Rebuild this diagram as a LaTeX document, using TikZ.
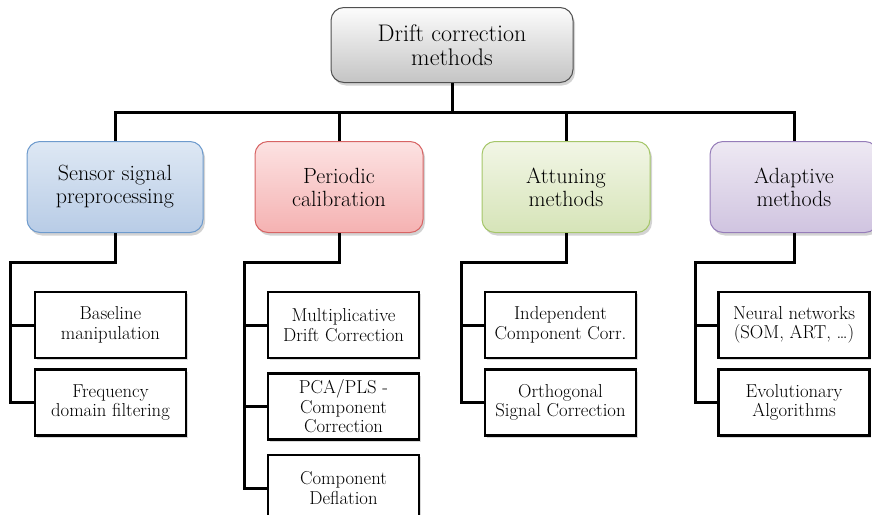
\documentclass[tikz,border=0pt]{standalone}
\usepackage{fontspec}
\usepackage{tikz}
\usetikzlibrary{positioning}
\usetikzlibrary{shadows}

\definecolor{rootTop}{RGB}{252,252,252}
\definecolor{rootBot}{RGB}{196,196,196}
\definecolor{rootLine}{RGB}{80,80,80}
\definecolor{sensTop}{RGB}{222,232,244}
\definecolor{sensBot}{RGB}{184,204,230}
\definecolor{sensLine}{RGB}{110,155,205}
\definecolor{perTop}{RGB}{252,226,226}
\definecolor{perBot}{RGB}{245,178,178}
\definecolor{perLine}{RGB}{215,100,100}
\definecolor{attTop}{RGB}{242,246,230}
\definecolor{attBot}{RGB}{214,228,184}
\definecolor{attLine}{RGB}{165,198,105}
\definecolor{adaTop}{RGB}{238,233,243}
\definecolor{adaBot}{RGB}{208,196,224}
\definecolor{adaLine}{RGB}{150,125,185}

\begin{document}
\begin{tikzpicture}[x=1pt,y=-1pt,line width=3pt,
    group/.style={draw,line width=1pt,rounded corners=13pt,align=center,inner sep=0pt,
      minimum width=168pt,minimum height=91pt,font=\fontsize{22}{23}\selectfont,
      drop shadow={shadow xshift=2pt,shadow yshift=-3pt,opacity=.35}},
    leaf/.style={draw,line width=2.5pt,fill=white,align=center,inner sep=0pt,
      minimum width=151pt,minimum height=66pt,font=\fontsize{18.7}{19.5}\selectfont,
      drop shadow={shadow xshift=1.5pt,shadow yshift=-2pt,opacity=.3}}]
  \useasboundingbox (0,0) rectangle (872,514);

  \node[draw,line width=1pt,rounded corners=13pt,align=center,inner sep=0pt,
        minimum width=242pt,minimum height=75pt,font=\fontsize{24}{24}\selectfont,
        top color=rootTop,bottom color=rootBot,draw=rootLine,
        drop shadow={shadow xshift=2pt,shadow yshift=-3pt,opacity=.35}]
        (Root) at (452,45) {Drift correction\\methods};

  \node[group,minimum width=176pt,top color=sensTop,bottom color=sensBot,draw=sensLine]
        (Sensor)   at (115,187) {Sensor signal\\preprocessing};
  \node[group,top color=perTop,bottom color=perBot,draw=perLine]
        (Periodic) at (339,187) {Periodic\\calibration};
  \node[group,top color=attTop,bottom color=attBot,draw=attLine]
        (Attuning) at (566,187) {Attuning\\methods};
  \node[group,top color=adaTop,bottom color=adaBot,draw=adaLine]
        (Adaptive) at (794,187) {Adaptive\\methods};

  \node[leaf] (Baseline) at (110.5,325)         {Baseline\\manipulation};
  \node[leaf] (Frequency) [below=9pt of Baseline] {Frequency\\domain filtering};

  \node[leaf] (Multi)    at (343.5,325)         {Multiplicative\\Drift Correction};
  \node[leaf] (PcaPls)   [below=13pt of Multi]  {PCA/PLS -\\Component\\Correction};
  \node[leaf] (Deflation) [below=13pt of PcaPls] {Component\\Deflation};

  \node[leaf] (Independent) at (560.5,325)       {Independent\\Component Corr.};
  \node[leaf] (Orthogonal) [below=9pt of Independent] {Orthogonal\\Signal Correction};

  \node[leaf] (Neural)   at (794,325)           {Neural networks\\(SOM, ART, \ldots)};
  \node[leaf] (Evolution) [below=9pt of Neural] {Evolutionary\\Algorithms};

  % main bus
  \coordinate (Bus) at (452,112);
  \draw (Root.south) -- (Bus);
  \foreach \grp in {Sensor,Periodic,Attuning,Adaptive}
    \draw (Bus) -| (\grp.north);

  % sub branches
  \coordinate (SensorSpine)   at (10,262);
  \coordinate (PeriodicSpine) at (244,262);
  \coordinate (AttuningSpine) at (461,262);
  \coordinate (AdaptiveSpine) at (695,262);

  \draw (Sensor.south) |- (SensorSpine) |- (Frequency.west);
  \draw (SensorSpine |- Baseline.west) -- (Baseline.west);

  \draw (Periodic.south) |- (PeriodicSpine) |- (Deflation.west);
  \draw (PeriodicSpine |- Multi.west) -- (Multi.west);
  \draw (PeriodicSpine |- PcaPls.west) -- (PcaPls.west);

  \draw (Attuning.south) |- (AttuningSpine) |- (Orthogonal.west);
  \draw (AttuningSpine |- Independent.west) -- (Independent.west);

  \draw (Adaptive.south) |- (AdaptiveSpine) |- (Evolution.west);
  \draw (AdaptiveSpine |- Neural.west) -- (Neural.west);
\end{tikzpicture}
\end{document}
